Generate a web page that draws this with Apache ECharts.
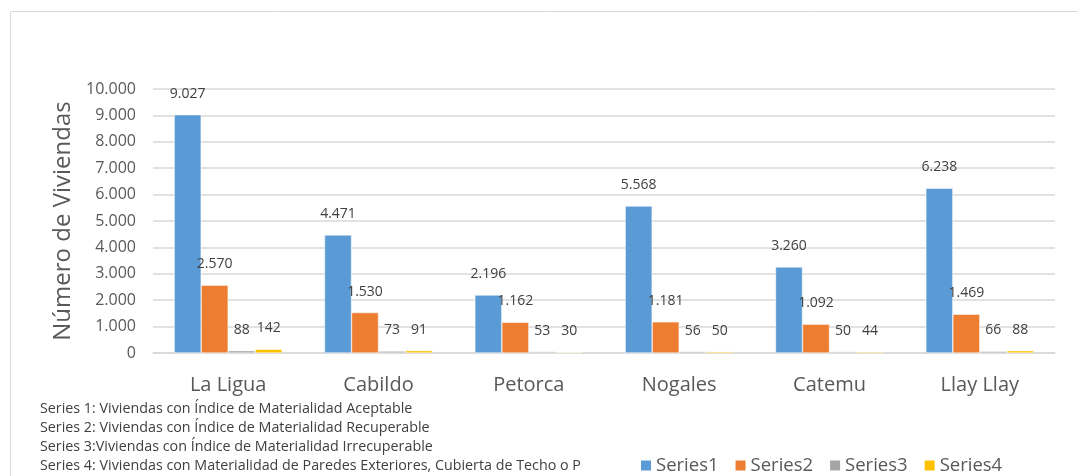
<!DOCTYPE html>
<html>
<head>
<meta charset="utf-8">
<script src="https://cdn.jsdelivr.net/npm/echarts@6/dist/echarts.min.js"></script>
<style>
html,body{margin:0;padding:0;background:#fff;}
#c{width:1078px;height:476px;}
</style>
</head>
<body>
<div id="c"></div>
<script>
const categories = ['La Ligua', 'Cabildo', 'Petorca', 'Nogales', 'Catemu', 'Llay Llay'];
const series1 = [9027, 4471, 2196, 5568, 3260, 6238];
const series2 = [2570, 1530, 1162, 1181, 1092, 1469];
const series3 = [88, 73, 53, 56, 50, 66];
const series4 = [142, 91, 30, 50, 44, 88];
const seriesNames = ['Series1', 'Series2', 'Series3', 'Series4'];
const colors = ['#5B9BD5', '#ED7D31', '#A5A5A5', '#FFC000'];
const yTicks = { min: 0, max: 10000, interval: 1000 };
const notes = [
  'Series 1: Viviendas con Índice de Materialidad Aceptable',
  'Series 2: Viviendas con Índice de Materialidad Recuperable',
  'Series 3:Viviendas con Índice de Materialidad Irrecuperable',
  'Series 4: Viviendas con Materialidad de Paredes Exteriores, Cubierta de Techo o P'
];
const FONT = '"Open Sans", Lato, sans-serif';

function fmt(v) {
  return String(v).replace(/\B(?=(\d{3})+(?!\d))/g, '.');
}

const chart = echarts.init(document.getElementById('c'), null, { renderer: 'canvas' });
const data = [series1, series2, series3, series4];

const noteElems = notes.map((t, i) => ({
  type: 'text',
  left: 40,
  top: 402 + i * 19,
  style: { text: t, fill: '#404040', font: '14.3px ' + FONT }
}));

chart.setOption({
  animation: false,
  color: colors,
  grid: { left: 153, right: 23, top: 89, bottom: 123, containLabel: false },
  legend: {
    data: seriesNames,
    left: 634,
    top: 451,
    itemWidth: 12,
    itemHeight: 12,
    itemGap: 15,
    icon: 'rect',
    textStyle: { fontSize: 18.5, color: '#595959', fontFamily: FONT, padding: [0, 0, 0, -1] }
  },
  xAxis: {
    type: 'category',
    data: categories,
    axisLine: { show: true, lineStyle: { color: '#d9d9d9', width: 1.5 } },
    axisTick: { show: false },
    axisLabel: { fontSize: 20, color: '#595959', fontFamily: FONT, margin: 22 }
  },
  yAxis: {
    type: 'value',
    min: yTicks.min,
    max: yTicks.max,
    interval: yTicks.interval,
    name: 'Número de Viviendas',
    nameLocation: 'middle',
    nameGap: 77,
    nameTextStyle: { fontSize: 24, color: '#595959', fontFamily: FONT },
    axisLine: { show: false },
    axisTick: { show: false },
    splitLine: { lineStyle: { color: '#d9d9d9', width: 1.5 } },
    axisLabel: { fontSize: 16, color: '#595959', fontFamily: FONT, margin: 17, formatter: fmt }
  },
  series: data.map((d, i) => ({
    name: seriesNames[i],
    type: 'bar',
    data: d,
    barWidth: 27,
    barGap: '0%',
    itemStyle: { color: colors[i], borderColor: '#ffffff', borderWidth: 0.5 },
    label: {
      show: true,
      position: 'top',
      distance: 14,
      fontSize: 14,
      color: '#404040',
      fontFamily: FONT,
      formatter: p => fmt(p.value)
    }
  })),
  graphic: [
    { type: 'line', shape: { x1: 10.5, y1: 11.5, x2: 1078, y2: 11.5 }, style: { stroke: '#d9d9d9', lineWidth: 1 } },
    { type: 'line', shape: { x1: 10.5, y1: 11.5, x2: 10.5, y2: 476 }, style: { stroke: '#d9d9d9', lineWidth: 1 } }
  ].concat(noteElems)
});
</script>
</body>
</html>
